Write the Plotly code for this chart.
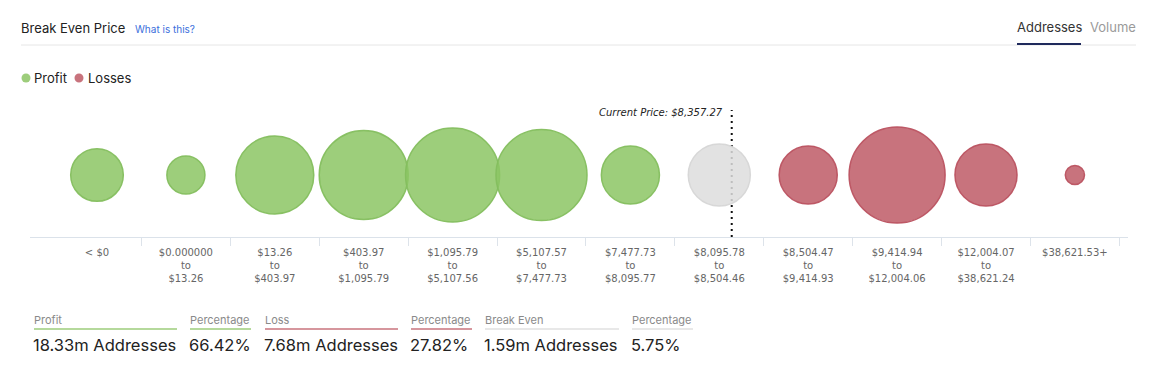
import plotly.graph_objects as go

# page body has an 8px default margin; lay out in reference pixels and shift
OFF = 8
W, H = 1166 - OFF, 372 - OFF

# ---------------- data ----------------
bucket_labels = [
    "< $0",
    "$0.000000<br>to<br>$13.26",
    "$13.26<br>to<br>$403.97",
    "$403.97<br>to<br>$1,095.79",
    "$1,095.79<br>to<br>$5,107.56",
    "$5,107.57<br>to<br>$7,477.73",
    "$7,477.73<br>to<br>$8,095.77",
    "$8,095.78<br>to<br>$8,504.46",
    "$8,504.47<br>to<br>$9,414.93",
    "$9,414.94<br>to<br>$12,004.06",
    "$12,004.07<br>to<br>$38,621.24",
    "$38,621.53+",
]
# addresses per bucket (millions)
addresses_m = [1.28, 0.67, 2.81, 3.66, 4.09, 3.83, 1.56, 1.78, 1.56, 4.26, 1.78, 0.17]
status = ["profit"] * 7 + ["even"] + ["loss"] * 4

current_price = 8357.27
current_bucket = 7
bucket_low, bucket_high = 8095.78, 8504.46

summary_labels = ["Profit", "Percentage", "Loss", "Percentage", "Break Even", "Percentage"]
summary_values = ["18.33m Addresses", "66.42%", "7.68m Addresses", "27.82%", "1.59m Addresses", "5.75%"]
summary_kind = ["profit", "profit", "loss", "loss", "even", "even"]

# ---------------- styles ----------------
fill = {"profit": "rgba(140,198,100,0.85)", "loss": "rgba(190,90,102,0.85)", "even": "rgba(221,221,221,0.85)"}
edge = {"profit": "rgba(132,190,94,0.95)", "loss": "rgba(186,82,96,0.95)", "even": "rgba(214,214,214,0.95)"}
solid = {"profit": "#9dcd7b", "loss": "#c8737d", "even": "#e0e0e0"}

def px(x):
    return (x - OFF) / W

def py(y):
    return 1 - (y - OFF) / H

fig = go.Figure()
idx = list(range(len(bucket_labels)))
sizeref = 2 * max(addresses_m) / (96 ** 2)
for kind in ["profit", "even", "loss"]:
    xs = [i for i in idx if status[i] == kind]
    fig.add_trace(go.Scatter(
        x=xs,
        y=[0] * len(xs),
        mode="markers",
        marker=dict(
            size=[addresses_m[i] for i in xs],
            sizemode="area",
            sizeref=sizeref,
            color=fill[kind],
            opacity=1,
            line=dict(color=edge[kind], width=1.5),
        ),
        hovertext=[bucket_labels[i].replace("<br>", " ") for i in xs],
        showlegend=False,
        cliponaxis=False,
    ))

price_pos = current_bucket - 0.5 + (current_price - bucket_low) / (bucket_high - bucket_low)

x_left, x_right = 30, 1128
y_top, y_bottom = 100, 237
c0, step = 97, 88.9
x_range = [(x_left - c0) / step, (x_right - c0) / step]

fig.update_layout(
    width=W, height=H,
    margin=dict(l=0, r=0, t=0, b=0),
    paper_bgcolor="white", plot_bgcolor="white",
    xaxis=dict(
        domain=[px(x_left), px(x_right)],
        range=x_range,
        tickmode="array", tickvals=idx, ticktext=bucket_labels,
        ticks="outside", ticklen=6, tickcolor="rgba(0,0,0,0)",
        tickfont=dict(family="DejaVu Sans", size=10, color="#666"),
        showline=True, linecolor="#dbe2ea", linewidth=1,
        showgrid=False, zeroline=False,
        minor=dict(tickmode="array", tickvals=[i + 0.5 for i in idx],
                   ticks="outside", ticklen=8, tickcolor="#dde3ea", tickwidth=1),
        fixedrange=True,
    ),
    yaxis=dict(
        domain=[py(y_bottom), py(y_top)],
        range=[-(y_bottom - 175), 175 - y_top],
        visible=False, fixedrange=True,
    ),
    font=dict(family="Inter"),
)

shapes = [
    # current price dotted line
    dict(type="line", xref="x", yref="paper", x0=price_pos, x1=price_pos,
         y0=py(237), y1=py(110), line=dict(color="#111", width=2, dash="2px,4px"), layer="below"),
    # header separator
    dict(type="line", xref="paper", yref="paper", x0=px(21), x1=px(1136), y0=py(45), y1=py(45),
         line=dict(color="#e6e6e6", width=1)),
    # tab underline
    dict(type="line", xref="paper", yref="paper", x0=px(1017), x1=px(1081), y0=py(44), y1=py(44),
         line=dict(color="#1f2a5c", width=2)),
    # legend dots
    dict(type="circle", xref="paper", yref="paper", x0=px(21.5), x1=px(30.5), y0=py(73.5), y1=py(82.5),
         fillcolor=solid["profit"], line=dict(width=0)),
    dict(type="circle", xref="paper", yref="paper", x0=px(74.5), x1=px(83.5), y0=py(73.5), y1=py(82.5),
         fillcolor=solid["loss"], line=dict(width=0)),
]

annotations = [
    dict(text="Break Even Price", x=px(19), y=py(28), xanchor="left", yanchor="middle",
         font=dict(family="Inter", size=13, color="#222")),
    dict(text="What is this?", x=px(133), y=py(29), xanchor="left", yanchor="middle",
         font=dict(family="Inter", size=10, color="#3b6fdc")),
    dict(text="Addresses", x=px(1015), y=py(27), xanchor="left", yanchor="middle",
         font=dict(family="Inter", size=13, color="#333")),
    dict(text="Volume", x=px(1088), y=py(27), xanchor="left", yanchor="middle",
         font=dict(family="Inter", size=13, color="#9a9a9a")),
    dict(text="Profit", x=px(32), y=py(78), xanchor="left", yanchor="middle",
         font=dict(family="Inter", size=13, color="#222")),
    dict(text="Losses", x=px(86), y=py(78), xanchor="left", yanchor="middle",
         font=dict(family="Inter", size=13, color="#222")),
    dict(text="Current Price: $8,357.27", xref="x", x=price_pos, xshift=-7, yref="paper", y=py(112),
         xanchor="right", yanchor="middle",
         font=dict(family="DejaVu Sans", size=10, color="#222", style="italic")),
]

col_x = [34, 190, 265, 411, 485, 632]
col_w = [143, 61, 133, 61, 134, 61]
for lab, val, kind, x0, w in zip(summary_labels, summary_values, summary_kind, col_x, col_w):
    annotations.append(dict(text=lab, x=px(x0 - 2), y=py(320), xanchor="left", yanchor="middle",
                            font=dict(family="Inter", size=11, color="#8a8a8a")))
    annotations.append(dict(text=val, x=px(x0 - 3), y=py(345), xanchor="left", yanchor="middle",
                            font=dict(family="Inter", size=16.5, color="#222")))
    shapes.append(dict(type="line", xref="paper", yref="paper", x0=px(x0), x1=px(x0 + w),
                       y0=py(329), y1=py(329), line=dict(color=solid[kind], width=1.5)))

for a in annotations:
    a.setdefault("xref", "paper")
    a.setdefault("yref", "paper")
    a["showarrow"] = False

fig.update_layout(shapes=shapes, annotations=annotations)
fig.write_html("out.html")
